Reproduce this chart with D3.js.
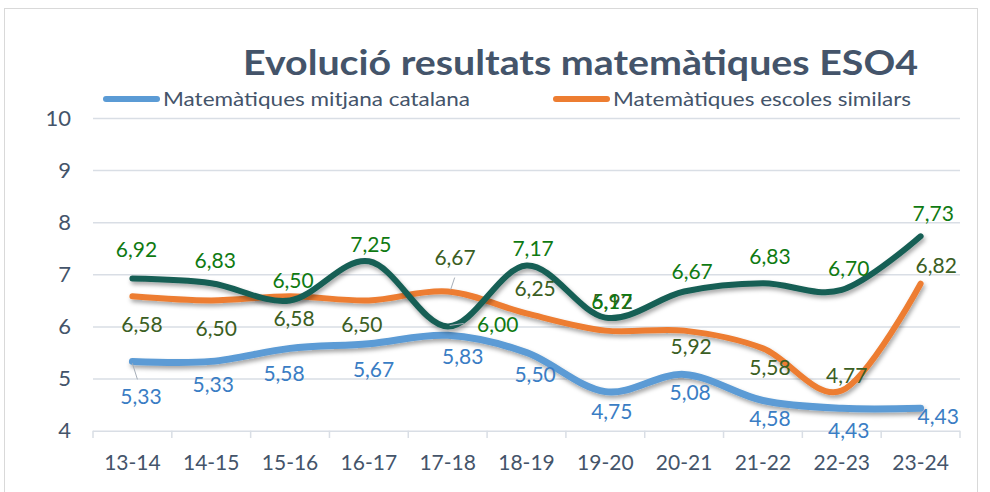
<!DOCTYPE html>
<html><head><meta charset="utf-8">
<script src="https://cdn.jsdelivr.net/npm/d3@7"></script>
<style>
html,body{margin:0;padding:0;background:#fff;}
svg{display:block;font-family:Lato,"Open Sans",sans-serif;}
</style></head>
<body>
<svg id="chart" width="990" height="492"></svg>
<script>
// ---- data ----
const categories = ['13-14','14-15','15-16','16-17','17-18','18-19','19-20','20-21','21-22','22-23','23-24'];
const mitjanaCatalana = [5.33,5.33,5.58,5.67,5.83,5.50,4.75,5.08,4.58,4.43,4.43];
const escolesSimilars = [6.58,6.50,6.58,6.50,6.67,6.25,5.92,5.92,5.58,4.77,6.82];
const escola = [6.92,6.83,6.50,7.25,6.00,7.17,6.17,6.67,6.83,6.70,7.73];
const yTicks = [4,5,6,7,8,9,10];
const title = 'Evolució resultats matemàtiques ESO4';
const legendNames = ['Matemàtiques mitjana catalana','Matemàtiques escoles similars'];

// ---- layout (label offsets in px, not data) ----
const offBlue = [[8.6,35.3],[2,23.6],[-6,25],[4.7,26.3],[15,21],[8.6,22.5],[6.5,20],[6,18],[7,18],[7,22],[17.6,8.4]];
const offOrange = [[9.6,28.7],[5,28.6],[4,22],[-7,24.6],[7.4,-33.6],[8.6,-25],[7,-28.7],[7,16],[7,19],[5,-14.6],[15.6,-18]];
const offGreen = [[4,-29],[4,-23],[3,-20],[2,-17],[50,-1.5],[6.6,-16.5],[6.5,-15.6],[8,-20],[7,-27],[7,-21],[12.6,-23]];

const svg = d3.select('#chart');
const textColor = '#44546A';

// border
svg.append('rect').attr('x',4.5).attr('y',8.5).attr('width',973).attr('height',500)
  .attr('fill','#fff').attr('stroke','#D9D9D9').attr('stroke-width',1);

const defs = svg.append('defs');
const f = defs.append('filter').attr('id','shadow').attr('x','-5%').attr('y','-20%').attr('width','110%').attr('height','160%');
f.append('feDropShadow').attr('dx',1.5).attr('dy',3).attr('stdDeviation',2).attr('flood-color','#000').attr('flood-opacity',0.35);

const x = d3.scaleBand().domain(categories).range([93,960]);
const y = d3.scaleLinear().domain([4,10]).range([430.7,118]);
const cx = c => x(c) + x.bandwidth()/2;

// y axis with gridlines
const ya = svg.append('g').attr('transform','translate(93,0)')
  .call(d3.axisLeft(y).tickValues(yTicks).tickSizeInner(-867).tickSizeOuter(0).tickPadding(22).tickFormat(d3.format('d')));
ya.select('.domain').remove();
ya.selectAll('.tick line').attr('stroke','#D9DEE5').attr('stroke-width',1.5);
ya.selectAll('.tick text').attr('fill',textColor).attr('font-size',22).attr('font-family','Lato');

// x axis
const xa = svg.append('g').attr('transform','translate(0,430.7)')
  .call(d3.axisBottom(x).tickSize(0).tickPadding(24));
xa.select('.domain').remove();
xa.selectAll('.tick text').attr('fill',textColor).attr('font-size',21).attr('font-family','Lato');
const bounds = categories.map(c => x(c)).concat([x.range()[1]]);
svg.append('g').selectAll('line').data(bounds).join('line')
  .attr('x1',d=>d).attr('x2',d=>d).attr('y1',430.7).attr('y2',438)
  .attr('stroke','#D9DEE5').attr('stroke-width',1.5);

// lines
const line = d3.line().x((d,i)=>cx(categories[i])).y(d=>y(d)).curve(d3.curveCardinal.tension(0));
const series = [
  {vals:mitjanaCatalana, color:'#5B9BD5', w:7, lab:'#3A7DC4', off:offBlue},
  {vals:escolesSimilars, color:'#ED7D31', w:6, lab:'#3B5E23', off:offOrange},
  {vals:escola, color:'#175E54', w:6, lab:'#0F7A12', off:offGreen}
];
series.forEach(s=>{
  svg.append('path').datum(s.vals).attr('d',line).attr('fill','none')
    .attr('stroke',s.color).attr('stroke-width',s.w).attr('stroke-linecap','round')
    .attr('filter','url(#shadow)');
});

// leader lines
const leaders = [
  [mitjanaCatalana, 0, [0,2], [5,18]],
  [escolesSimilars, 4, [3,-2], [7,-14]],
  [escola, 4, [2,-1], [16,-3]]
];
leaders.forEach(([vals,i,a,b])=>{
  const px = cx(categories[i]), py = y(vals[i]);
  svg.append('line').attr('x1',px+a[0]).attr('y1',py+a[1]).attr('x2',px+b[0]).attr('y2',py+b[1])
    .attr('stroke','#A6AEB8').attr('stroke-width',1);
});

// labels
const fmt = v => v.toFixed(2).replace('.',',');
series.forEach(s=>{
  svg.append('g').selectAll('text').data(s.vals).join('text')
    .attr('x',(d,i)=>cx(categories[i]) + s.off[i][0])
    .attr('y',(d,i)=>y(d) + s.off[i][1])
    .attr('dy','0.35em').attr('text-anchor','middle')
    .attr('font-size',21).attr('fill',s.lab).text(fmt);
});

// title
svg.append('text').attr('x',243).attr('y',75).attr('font-size',34).attr('font-weight','bold')
  .attr('fill',textColor).attr('textLength',675).attr('lengthAdjust','spacingAndGlyphs').text(title);

// legend
const legend = [
  {x:103, color:'#5B9BD5', name:legendNames[0], tl:307},
  {x:553, color:'#ED7D31', name:legendNames[1], tl:298}
];
legend.forEach(l=>{
  svg.append('line').attr('x1',l.x+3).attr('x2',l.x+54).attr('y1',99).attr('y2',99)
    .attr('stroke',l.color).attr('stroke-width',6).attr('stroke-linecap','round');
  svg.append('text').attr('x',l.x+60).attr('y',99).attr('dy','0.35em').attr('font-size',20)
    .attr('fill',textColor).attr('textLength',l.tl).attr('lengthAdjust','spacingAndGlyphs').text(l.name);
});
</script>
</body></html>
